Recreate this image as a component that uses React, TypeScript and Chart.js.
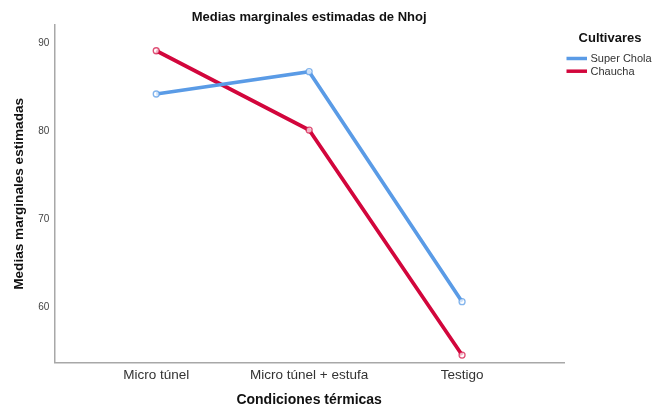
import React, { useEffect, useRef } from "react";
import { Chart, registerables } from "chart.js";

Chart.register(...registerables);

const categories = ["Micro túnel", "Micro túnel + estufa", "Testigo"];
const superChola = [84.25, 86.78, 60.68];
const chaucha = [89.16, 80.16, 54.63];
const seriesNames = ["Super Chola", "Chaucha"];
const yTicks = [60, 70, 80, 90];

const chartTitle = "Medias marginales estimadas de Nhoj";
const legendTitle = "Cultivares";
const xTitle = "Condiciones térmicas";
const yTitle = "Medias marginales estimadas";

const BLUE = "#5a9be6";
const RED = "#d2063c";
const FONT = "'Liberation Sans', Arial, sans-serif";

const overlay = {
  id: "overlayText",
  afterDraw(chart: any) {
    const ctx = chart.ctx;
    const area = chart.chartArea;
    ctx.save();
    ctx.fillStyle = "#111";
    ctx.font = `bold 13px ${FONT}`;
    ctx.textAlign = "center";
    ctx.textBaseline = "middle";
    ctx.fillText(chartTitle, (area.left + area.right) / 2, 17);
    ctx.fillText(legendTitle, 610, 38);
    ctx.font = `11px ${FONT}`;
    ctx.textAlign = "left";
    chart.data.datasets.forEach((ds: any, i: number) => {
      const y = 58.5 + i * 12.7;
      ctx.strokeStyle = ds.borderColor;
      ctx.lineWidth = 3.5;
      ctx.beginPath();
      ctx.moveTo(566.5, y);
      ctx.lineTo(587, y);
      ctx.stroke();
      ctx.fillStyle = "#333";
      ctx.fillText(ds.label, 590.5, y + 0.5);
    });
    ctx.restore();
  },
};

export default function App() {
  const ref = useRef<HTMLCanvasElement | null>(null);
  useEffect(() => {
    if (!ref.current) return;
    const mk = (vals: number[]) => vals.map((v, i) => ({ x: i + 1, y: v }));
    const chart = new Chart(ref.current, {
      type: "line",
      data: {
        datasets: [
          {
            label: seriesNames[0],
            data: mk(superChola),
            borderColor: BLUE,
            borderWidth: 3.7,
            pointRadius: 3,
            pointBorderWidth: 1.3,
            pointBorderColor: "rgba(90,155,230,0.75)",
            pointBackgroundColor: "rgba(255,255,255,0.7)",
            tension: 0,
          },
          {
            label: seriesNames[1],
            data: mk(chaucha),
            borderColor: RED,
            borderWidth: 3.7,
            pointRadius: 3,
            pointBorderWidth: 1.3,
            pointBorderColor: "rgba(210,6,60,0.7)",
            pointBackgroundColor: "rgba(255,255,255,0.7)",
            tension: 0,
          },
        ],
      },
      options: {
        responsive: false,
        animation: false,
        layout: { padding: { top: 25, right: 104, left: 0, bottom: 0 } },
        plugins: {
          legend: { display: false },
          title: { display: false },
          tooltip: { enabled: false },
        },
        scales: {
          x: {
            type: "linear",
            min: 1 / 3,
            max: 11 / 3,
            grid: { display: false, drawTicks: false },
            border: { display: true, color: "#a8a8a8", width: 1.5 },
            afterBuildTicks: (scale: any) => {
              scale.ticks = categories.map((_, i) => ({ value: i + 1 }));
            },
            afterFit: (scale: any) => {
              scale.height = 48.3;
            },
            ticks: {
              autoSkip: false,
              maxRotation: 0,
              padding: 4,
              color: "#333",
              font: { family: FONT, size: 13.5 },
              callback: (v: any) => categories[Math.round(v) - 1] ?? "",
            },
            title: {
              display: true,
              text: xTitle,
              color: "#111",
              font: { family: FONT, size: 14, weight: "bold" },
              padding: { top: 0, bottom: 2 },
            },
          },
          y: {
            type: "linear",
            min: 53.76,
            max: 92.08,
            grid: { display: false, drawTicks: false },
            border: { display: true, color: "#a8a8a8", width: 1.5 },
            afterBuildTicks: (scale: any) => {
              scale.ticks = yTicks.map((v) => ({ value: v }));
            },
            afterFit: (scale: any) => {
              scale.width = 54.3;
            },
            ticks: {
              padding: 5,
              color: "#444",
              font: { family: FONT, size: 10 },
            },
            title: {
              display: true,
              text: yTitle,
              color: "#111",
              font: { family: FONT, size: 13.6, weight: "bold" },
              padding: { top: 11.5, bottom: 0 },
            },
          },
        },
      },
      plugins: [overlay],
    });
    return () => chart.destroy();
  }, []);
  return (
    <div style={{ position: "absolute", left: 0, top: 0, width: 668, height: 411, background: "#fff" }}>
      <canvas ref={ref} width={668} height={411} />
    </div>
  );
}
